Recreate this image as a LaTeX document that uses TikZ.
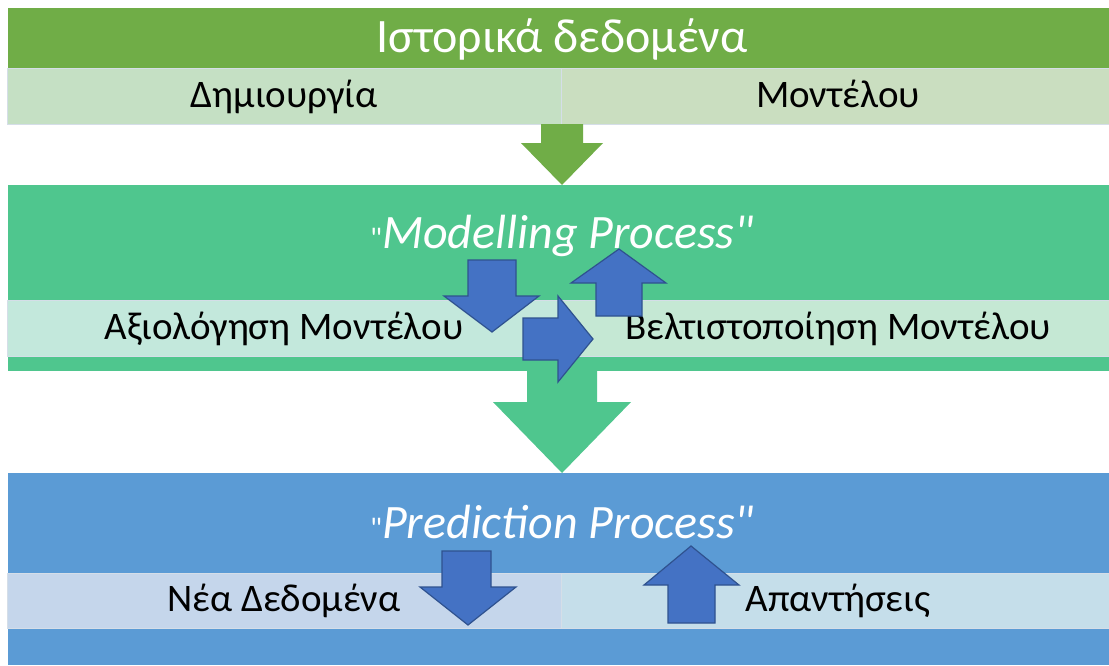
\documentclass[tikz,border=0pt]{standalone}
\usepackage{fontspec}
\setmainfont{Carlito}[Ligatures=TeXOff]
\definecolor{histgreen}{HTML}{70AD47}
\definecolor{histlightL}{HTML}{C5E0C4}
\definecolor{histlightR}{HTML}{CADEC0}
\definecolor{modgreen}{HTML}{4FC68E}
\definecolor{modlightL}{HTML}{C3E8DC}
\definecolor{modlightR}{HTML}{C5E8D4}
\definecolor{predblue}{HTML}{5B9BD5}
\definecolor{predlightL}{HTML}{C5D6EB}
\definecolor{predlightR}{HTML}{C5DEEA}
\definecolor{arrowblue}{HTML}{4472C4}
\definecolor{arrowedge}{HTML}{2F528F}
\definecolor{seam}{HTML}{D5DEE8}
\newcommand{\straightquote}{\char"22\relax}
\tikzset{
  subband/.style={draw=seam, line width=1pt},
  blockarrow/.style={fill=arrowblue, draw=arrowedge, line width=1.2pt, line join=miter},
  title/.style={text=white, inner sep=0pt, anchor=base, font=\fontsize{48}{52}\selectfont},
  label/.style={text=black, inner sep=0pt, anchor=base, font=\fontsize{39}{44}\selectfont},
}
\begin{document}
\begin{tikzpicture}[x=1pt, y=-1pt]
\useasboundingbox (0,0) rectangle (1109,665);
\fill[white] (0,0) rectangle (1109,665);

% historical data band
\fill[histgreen] (8,8) rectangle (1109,68);
\node[title] (hist) at (562,52) {Ιστορικά δεδομένα};
\filldraw[subband, fill=histlightL] (7,68) rectangle (561,124);
\filldraw[subband, fill=histlightR] (561,68) rectangle (1109,124);
\node[label] (create) at (284,107) {Δημιουργία};
\node[label] (model) at (838,107) {Μοντέλου};

% arrow into the modelling band
\fill[histgreen] (541,124) -- (583,124) -- (583,143) -- (603,143) -- (562,185) -- (521,143) -- (541,143) -- cycle;

% modelling band
\fill[modgreen] (8,185) rectangle (1109,371);
\node[title] (modp) at (562,248) {{\fontsize{30}{34}\selectfont\straightquote}\textit{Modelling Process\straightquote}};
\filldraw[subband, fill=modlightL] (7,300) rectangle (561,356);
\filldraw[subband, fill=modlightR] (561,300) rectangle (1109,356);
\node[label] (eval) at (284,339) {Αξιολόγηση Μοντέλου};
\node[label] (opt) at (838,339) {Βελτιστοποίηση Μοντέλου};

% arrow into the prediction band
\fill[modgreen] (527,371) -- (597,371) -- (597,402) -- (631,402) -- (562,473) -- (493,402) -- (527,402) -- cycle;

% evaluate / optimise cycle
\draw[blockarrow] (468,260) -- (516,260) -- (516,296) -- (539,296) -- (492,332) -- (444,296) -- (468,296) -- cycle;
\draw[blockarrow] (523,318) -- (558,318) -- (558,296) -- (593,339) -- (558,382) -- (558,360) -- (523,360) -- cycle;
\draw[blockarrow] (596,316) -- (642,316) -- (642,283) -- (666,283) -- (619,249) -- (571,283) -- (596,283) -- cycle;

% prediction band
\fill[predblue] (8,473) rectangle (1109,665);
\node[title] (predp) at (562,538) {{\fontsize{30}{34}\selectfont\straightquote}\textit{Prediction Process\straightquote}};
\filldraw[subband, fill=predlightL] (7,573) rectangle (561,628);
\filldraw[subband, fill=predlightR] (561,573) rectangle (1109,628);
\node[label] (newdata) at (284,611) {Νέα Δεδομένα};
\node[label] (answers) at (838,611) {Απαντήσεις};

\draw[blockarrow] (442,551) -- (491,551) -- (491,587) -- (516,587) -- (468,625) -- (420,587) -- (442,587) -- cycle;
\draw[blockarrow] (668,623) -- (715,623) -- (715,585) -- (739,585) -- (691,546) -- (644,585) -- (668,585) -- cycle;
\end{tikzpicture}
\end{document}
